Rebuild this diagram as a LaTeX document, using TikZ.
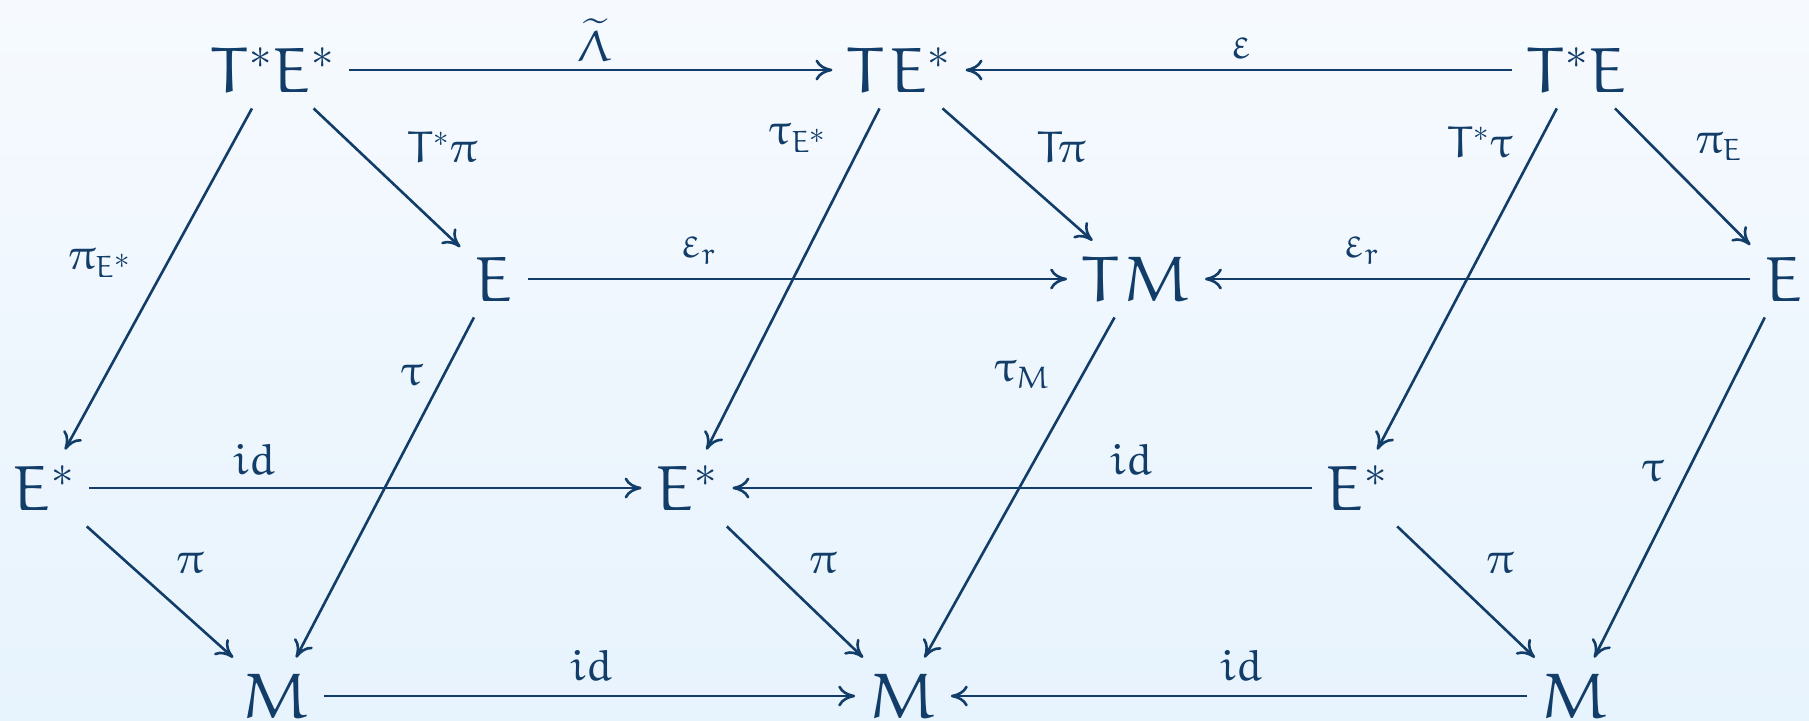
\documentclass[tikz,border=0pt]{standalone}
\usetikzlibrary{arrows.meta}
\DeclareFontFamily{U}{myeur}{\skewchar\font'177}
\DeclareFontShape{U}{myeur}{m}{n}{<-6>eurm5<6-8>eurm7<8->eurm10}{}
\DeclareFontFamily{OMS}{mysy}{\skewchar\font'60}
\DeclareFontShape{OMS}{mysy}{m}{n}{<->cmsy10}{}
\DeclareFontFamily{OMX}{myex}{}
\DeclareFontShape{OMX}{myex}{m}{n}{<->cmex10}{}
\DeclareSymbolFont{eul}{U}{myeur}{m}{n}
\DeclareSymbolFont{symbols}{OMS}{mysy}{m}{n}
\DeclareSymbolFont{largesymbols}{OMX}{myex}{m}{n}
\DeclareMathSymbol{T}{\mathalpha}{eul}{`T}
\DeclareMathSymbol{E}{\mathalpha}{eul}{`E}
\DeclareMathSymbol{M}{\mathalpha}{eul}{`M}
\DeclareMathSymbol{i}{\mathalpha}{eul}{`i}
\DeclareMathSymbol{d}{\mathalpha}{eul}{`d}
\DeclareMathSymbol{r}{\mathalpha}{eul}{`r}
\DeclareMathSymbol{\pi}{\mathord}{eul}{"19}
\DeclareMathSymbol{\tau}{\mathord}{eul}{"1C}
\DeclareMathSymbol{\varepsilon}{\mathord}{eul}{"22}
\DeclareMathSymbol{\Lambda}{\mathalpha}{eul}{"03}
\newcommand{\Esub}{E^{\scriptstyle *}}
\definecolor{ink}{RGB}{17,61,104}
\definecolor{bgtop}{RGB}{246,250,254}
\definecolor{bgbot}{RGB}{231,243,253}
\tikzset{
  obj/.style={font=\fontsize{32}{38}\selectfont, text=ink, inner sep=7pt, text height=23pt, text depth=1pt},
  lbl/.style={font=\fontsize{22}{26}\selectfont, text=ink, inner sep=0pt},
  arr/.style={draw=ink, line width=1.3pt, -{Computer Modern Rightarrow[length=8.5pt,width=10.5pt]}},
}
\begin{document}
\begin{tikzpicture}[x=0.5pt,y=-0.5pt]
\shade[top color=bgtop, bottom color=bgbot] (0,0) rectangle (1809,720);
\useasboundingbox (0,0) rectangle (1809,720);
\node[obj] (TsEs) at (273,70) {$T^*E^*$};
\node[obj] (TEs) at (899,70) {$T\mkern1mu E^*$};
\node[obj] (TsE) at (1577,70) {$T^*E$};
\node[obj] (EL) at (494,279) {$E$};
\node[obj] (TM) at (1136,279) {$T\mkern1mu M$};
\node[obj] (ER) at (1784,279) {$E$};
\node[obj] (EsL) at (44,488) {$E^*$};
\node[obj] (EsM) at (687,488) {$E^*$};
\node[obj] (EsR) at (1357,488) {$E^*$};
\node[obj] (ML) at (276,696) {$M$};
\node[obj] (MM) at (903,696) {$M$};
\node[obj] (MR) at (1575,696) {$M$};
\draw[arr] (TsEs) -- (TEs) node[lbl] at (594,40) {$\widetilde{\Lambda}$};
\draw[arr] (TsE) -- (TEs) node[lbl] at (1241,48) {$\varepsilon$};
\draw[arr] (TsEs) -- (EsL) node[lbl] at (100,263) {$\pi_{\Esub}$};
\draw[arr] (TsEs) -- (EL) node[lbl] at (442,147) {$T^*\pi$};
\draw[arr] (TEs) -- (EsM) node[lbl] at (798,138) {$\tau_{\Esub}$};
\draw[arr] (TEs) -- (TM) node[lbl] at (1061,147) {$T\pi$};
\draw[arr] (TsE) -- (EsR) node[lbl] at (1480,142) {$T^*\tau$};
\draw[arr] (TsE) -- (ER) node[lbl] at (1719,147) {$\pi_E$};
\draw[arr] (EL) -- (TM) node[lbl] at (698,251) {$\varepsilon_r$};
\draw[arr] (ER) -- (TM) node[lbl] at (1361,251) {$\varepsilon_r$};
\draw[arr] (EL) -- (ML) node[lbl] at (412,375) {$\tau$};
\draw[arr] (TM) -- (MM) node[lbl] at (1022,375) {$\tau_M$};
\draw[arr] (ER) -- (MR) node[lbl] at (1653,471) {$\tau$};
\draw[arr] (EsL) -- (EsM) node[lbl] at (254,459) {$id$};
\draw[arr] (EsR) -- (EsM) node[lbl] at (1131,459) {$id$};
\draw[arr] (EsL) -- (ML) node[lbl] at (190,563) {$\pi$};
\draw[arr] (EsM) -- (MM) node[lbl] at (823,563) {$\pi$};
\draw[arr] (EsR) -- (MR) node[lbl] at (1500,563) {$\pi$};
\draw[arr] (ML) -- (MM) node[lbl] at (591,665) {$id$};
\draw[arr] (MR) -- (MM) node[lbl] at (1241,665) {$id$};
\end{tikzpicture}
\end{document}
